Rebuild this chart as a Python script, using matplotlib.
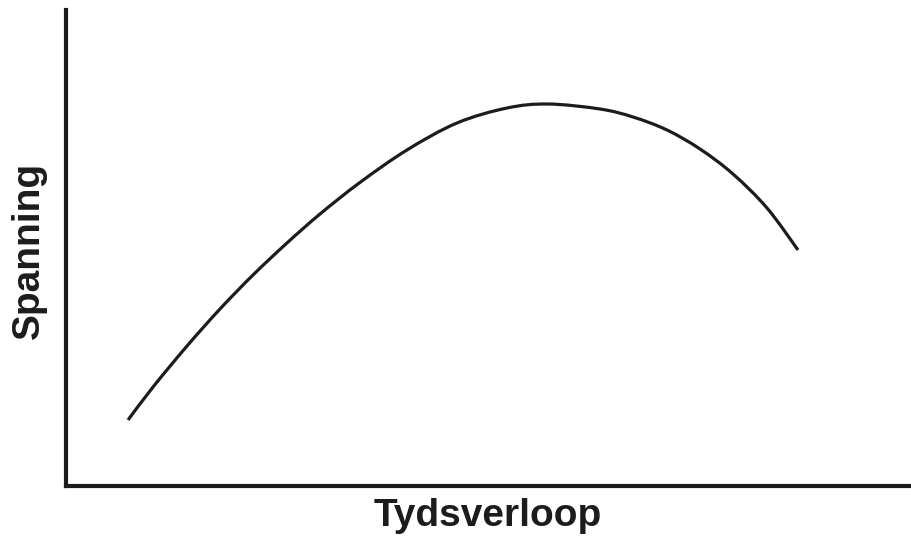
import matplotlib
matplotlib.use("Agg")
import matplotlib.pyplot as plt
from matplotlib.path import Path
from matplotlib.patches import PathPatch

# Curve (abstract units: x 0..100 time, y 0..100 voltage)
time_vals = [7.34, 10.30, 14.32, 18.22, 22.13, 26.15, 30.06, 34.79, 40.36, 46.27,
             52.19, 57.04, 63.20, 67.10, 71.12, 75.03, 78.93, 82.96, 86.63]
voltage_vals = [13.87, 20.80, 29.41, 37.18, 44.33, 51.05, 57.14, 63.77, 70.60, 76.26,
                79.41, 80.25, 79.20, 77.52, 74.79, 70.80, 65.55, 58.40, 49.58]

x_label = "Tydsverloop"
y_label = "Spanning"

W, H = 911, 538
fig = plt.figure(figsize=(W / 100, H / 100), dpi=100)
left, right, bottom, top = 66 / W, 1.0, (H - 486) / H, (H - 10) / H
ax = fig.add_axes([left, bottom, right - left, top - bottom])

# smooth curve through the read points (Catmull-Rom drawn as cubic Bezier path)
pts = list(zip(time_vals, voltage_vals))
n = len(pts)
verts = [pts[0]]
codes = [Path.MOVETO]
for i in range(n - 1):
    p0 = pts[i - 1] if i > 0 else pts[i]
    p1 = pts[i]
    p2 = pts[i + 1]
    p3 = pts[i + 2] if i + 2 < n else pts[i + 1]
    c1 = (p1[0] + (p2[0] - p0[0]) / 6, p1[1] + (p2[1] - p0[1]) / 6)
    c2 = (p2[0] - (p3[0] - p1[0]) / 6, p2[1] - (p3[1] - p1[1]) / 6)
    verts += [c1, c2, p2]
    codes += [Path.CURVE4] * 3
ax.add_patch(PathPatch(Path(verts, codes), facecolor="none", edgecolor="#1c1c1c",
                       linewidth=2.3, capstyle="butt"))

ax.set_xlim(0, 100)
ax.set_ylim(0, 100)
ax.set_xticks([])
ax.set_yticks([])
for s in ["top", "right"]:
    ax.spines[s].set_visible(False)
for s in ["left", "bottom"]:
    ax.spines[s].set_linewidth(3.0)
    ax.spines[s].set_color("#1c1c1c")
    ax.spines[s].set_capstyle("projecting")

font = ["Liberation Sans", "DejaVu Sans"]
fig.text(488 / W, 1 - 516 / H, x_label, ha="center", va="center",
         fontsize=28, fontweight="bold", family=font, color="#1c1c1c")
fig.text(29 / W, 1 - 250 / H, y_label, ha="center", va="center", rotation=90,
         fontsize=28, fontweight="bold", family=font, color="#1c1c1c")

fig.savefig("out.png", dpi=100, facecolor="white")
